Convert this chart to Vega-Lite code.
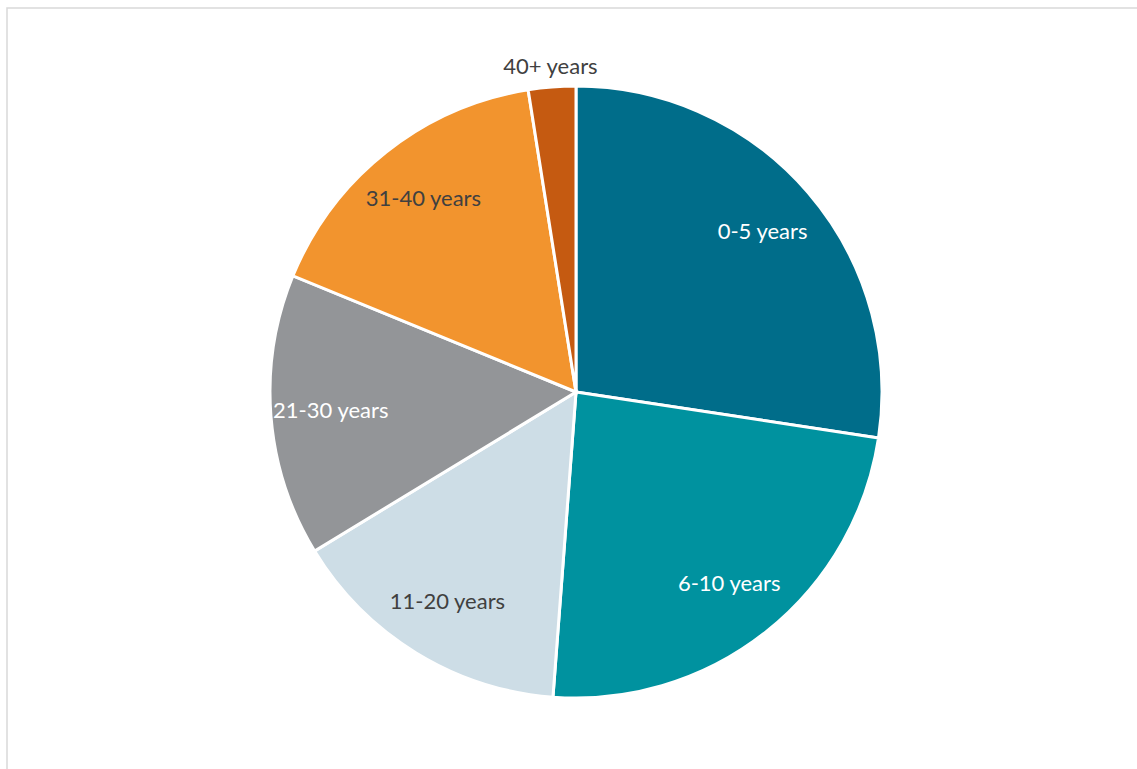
{
  "$schema": "https://vega.github.io/schema/vega-lite/v6.json",
  "autosize": {"type": "fit", "contains": "padding"},
  "width": 1137,
  "height": 769,
  "padding": {"left": 7, "top": 8, "right": -8, "bottom": -7},
  "background": "white",
  "view": {"stroke": "#D9D9D9", "strokeWidth": 1.5},
  "data": {
    "values": [
      {"group": "0-5 years", "share": 27.4, "rank": 1},
      {"group": "6-10 years", "share": 23.8, "rank": 2},
      {"group": "11-20 years", "share": 15.1, "rank": 3},
      {"group": "21-30 years", "share": 14.9, "rank": 4},
      {"group": "31-40 years", "share": 16.3, "rank": 5},
      {"group": "40+ years", "share": 2.5, "rank": 6}
    ]
  },
  "encoding": {
    "theta": {"field": "share", "type": "quantitative", "stack": true},
    "order": {"field": "rank", "type": "quantitative"}
  },
  "layer": [
    {
      "mark": {"type": "arc", "outerRadius": 306, "stroke": "white", "strokeWidth": 3},
      "encoding": {
        "color": {
          "field": "group",
          "type": "nominal",
          "scale": {
            "domain": ["0-5 years", "6-10 years", "11-20 years", "21-30 years", "31-40 years", "40+ years"],
            "range": ["#006D8A", "#00929F", "#CDDDE6", "#939598", "#F2942E", "#C55A11"]
          },
          "legend": null
        }
      }
    },
    {
      "mark": {"type": "text", "radius": 246, "font": "Lato", "fontSize": 22, "baseline": "middle", "align": "center"},
      "encoding": {
        "text": {"condition": {"test": "datum.group !== '40+ years'", "field": "group", "type": "nominal"}, "value": ""},
        "color": {
          "field": "group",
          "type": "nominal",
          "scale": {
            "domain": ["0-5 years", "6-10 years", "11-20 years", "21-30 years", "31-40 years", "40+ years"],
            "range": ["#FFFFFF", "#FFFFFF", "#404040", "#FFFFFF", "#404040", "#404040"]
          },
          "legend": null
        }
      }
    },
    {
      "mark": {"type": "text", "radius": 326, "font": "Lato", "fontSize": 22, "baseline": "middle", "align": "center", "color": "#404040"},
      "encoding": {
        "text": {"condition": {"test": "datum.group === '40+ years'", "field": "group", "type": "nominal"}, "value": ""}
      }
    }
  ],
  "resolve": {"scale": {"color": "independent"}}
}
